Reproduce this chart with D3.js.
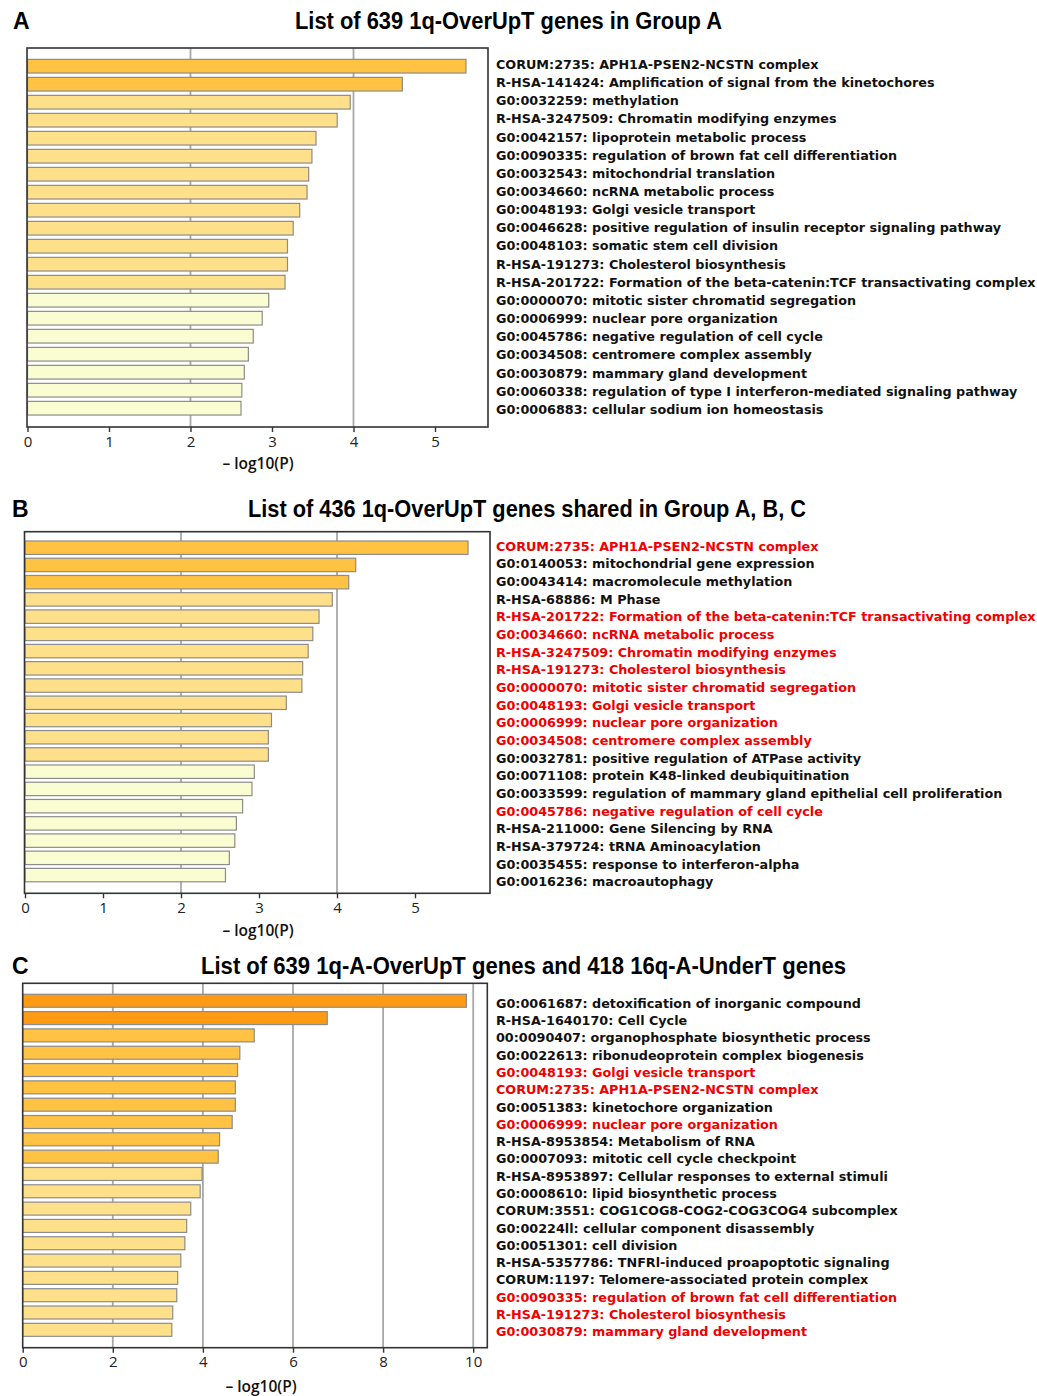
<!DOCTYPE html>
<html>
<head>
<meta charset="utf-8">
<script src="https://cdn.jsdelivr.net/npm/d3@7"></script>
<style>
  html, body { margin: 0; padding: 0; background: #fff; }
  svg { display: block; }
  .title { font-family: "Liberation Sans", Arial, sans-serif; font-weight: bold; }
  .term { font-family: "DejaVu Sans", Verdana, sans-serif; font-weight: bold; }
  .tick text { font-family: "Open Sans", "Liberation Sans", sans-serif; }
</style>
</head>
<body>
<svg id="chart" width="1037" height="1396"></svg>
<script>
// ---------------- DATA ----------------
const titles = [
  "List of 639 1q-OverUpT genes in Group A",
  "List of 436 1q-OverUpT genes shared in Group A, B, C",
  "List of 639 1q-A-OverUpT genes and 418 16q-A-UnderT genes"
];
const panelLetters = ["A", "B", "C"];
const axisTitle = "\u2013 log10(P)";

const termsA = [
  "CORUM:2735: APH1A-PSEN2-NCSTN complex",
  "R-HSA-141424: Amplification of signal from the kinetochores",
  "G0:0032259: methylation",
  "R-HSA-3247509: Chromatin modifying enzymes",
  "G0:0042157: lipoprotein metabolic process",
  "G0:0090335: regulation of brown fat cell differentiation",
  "G0:0032543: mitochondrial translation",
  "G0:0034660: ncRNA metabolic process",
  "G0:0048193: Golgi vesicle transport",
  "G0:0046628: positive regulation of insulin receptor signaling pathway",
  "G0:0048103: somatic stem cell division",
  "R-HSA-191273: Cholesterol biosynthesis",
  "R-HSA-201722: Formation of the beta-catenin:TCF transactivating complex",
  "G0:0000070: mitotic sister chromatid segregation",
  "G0:0006999: nuclear pore organization",
  "G0:0045786: negative regulation of cell cycle",
  "G0:0034508: centromere complex assembly",
  "G0:0030879: mammary gland development",
  "G0:0060338: regulation of type I interferon-mediated signaling pathway",
  "G0:0006883: cellular sodium ion homeostasis"
];
const valuesA = [5.38, 4.60, 3.96, 3.80, 3.54, 3.49, 3.45, 3.43, 3.34, 3.26,
                 3.19, 3.19, 3.16, 2.96, 2.88, 2.77, 2.71, 2.66, 2.63, 2.62];
const redA = [];

const termsB = [
  "CORUM:2735: APH1A-PSEN2-NCSTN complex",
  "G0:0140053: mitochondrial gene expression",
  "G0:0043414: macromolecule methylation",
  "R-HSA-68886: M Phase",
  "R-HSA-201722: Formation of the beta-catenin:TCF transactivating complex",
  "G0:0034660: ncRNA metabolic process",
  "R-HSA-3247509: Chromatin modifying enzymes",
  "R-HSA-191273: Cholesterol biosynthesis",
  "G0:0000070: mitotic sister chromatid segregation",
  "G0:0048193: Golgi vesicle transport",
  "G0:0006999: nuclear pore organization",
  "G0:0034508: centromere complex assembly",
  "G0:0032781: positive regulation of ATPase activity",
  "G0:0071108: protein K48-linked deubiquitination",
  "G0:0033599: regulation of mammary gland epithelial cell proliferation",
  "G0:0045786: negative regulation of cell cycle",
  "R-HSA-211000: Gene Silencing by RNA",
  "R-HSA-379724: tRNA Aminoacylation",
  "G0:0035455: response to interferon-alpha",
  "G0:0016236: macroautophagy"
];
const valuesB = [5.68, 4.24, 4.15, 3.94, 3.77, 3.69, 3.63, 3.56, 3.55, 3.35,
                 3.16, 3.12, 3.12, 2.94, 2.91, 2.79, 2.71, 2.69, 2.62, 2.57];
const redB = [0, 4, 5, 6, 7, 8, 9, 10, 11, 15];

const termsC = [
  "G0:0061687: detoxification of inorganic compound",
  "R-HSA-1640170: Cell Cycle",
  "00:0090407: organophosphate biosynthetic process",
  "G0:0022613: ribonudeoprotein complex biogenesis",
  "G0:0048193: Golgi vesicle transport",
  "CORUM:2735: APH1A-PSEN2-NCSTN complex",
  "G0:0051383: kinetochore organization",
  "G0:0006999: nuclear pore organization",
  "R-HSA-8953854: Metabolism of RNA",
  "G0:0007093: mitotic cell cycle checkpoint",
  "R-HSA-8953897: Cellular responses to external stimuli",
  "G0:0008610: lipid biosynthetic process",
  "CORUM:3551: COG1COG8-COG2-COG3COG4 subcomplex",
  "G0:00224ll: cellular component disassembly",
  "G0:0051301: cell division",
  "R-HSA-5357786: TNFRl-induced proapoptotic signaling",
  "CORUM:1197: Telomere-associated protein complex",
  "G0:0090335: regulation of brown fat cell differentiation",
  "R-HSA-191273: Cholesterol biosynthesis",
  "G0:0030879: mammary gland development"
];
const valuesC = [9.85, 6.76, 5.14, 4.82, 4.77, 4.72, 4.72, 4.65, 4.37, 4.34,
                 3.98, 3.94, 3.73, 3.64, 3.60, 3.51, 3.44, 3.42, 3.33, 3.31];
const redC = [4, 5, 7, 17, 18, 19];

const ticksA = [0, 1, 2, 3, 4, 5];
const ticksB = [0, 1, 2, 3, 4, 5];
const ticksC = [0, 2, 4, 6, 8, 10];
const gridA = [2, 4];
const gridB = [2, 4];
const gridC = [2, 4, 6, 8, 10];

// colour bins by -log10(P)
const colorThresholds = [3, 4, 6];
const colorBins = ["#fafcd2", "#ffe08a", "#ffc243", "#ff9a12"];

// ---------------- LAYOUT ----------------
const layouts = [
  { frame: [27, 48, 488, 427], x0: 27.5, unit: 81.5, bars: [57.2, 417.2], pad: 0.24,
    labels: [64.3, 409.3], tickY: 427, axisTitle: [258, 469], title: [508.5, 29, 427], letter: [13, 29] },
  { frame: [24.5, 531.7, 490, 893.3], x0: 25, unit: 78, bars: [539.1, 883.7], pad: 0.22,
    labels: [546, 881.7], tickY: 893.3, axisTitle: [258, 936], title: [527, 517, 558], letter: [12, 517] },
  { frame: [22.7, 983.3, 487.3, 1347.7], x0: 22.7, unit: 45.05, bars: [992.1, 1338.5], pad: 0.25,
    labels: [1003.3, 1331.7], tickY: 1347.7, axisTitle: [261, 1392], title: [523.5, 974, 645], letter: [12, 974] }
];

const panelData = [
  { terms: termsA, values: valuesA, red: redA, ticks: ticksA, grid: gridA },
  { terms: termsB, values: valuesB, red: redB, ticks: ticksB, grid: gridB },
  { terms: termsC, values: valuesC, red: redC, ticks: ticksC, grid: gridC }
];

const svg = d3.select("#chart");
const color = d3.scaleThreshold().domain(colorThresholds).range(colorBins);

panelData.forEach((pd, i) => {
  const L = layouts[i];
  const [fx0, fy0, fx1, fy1] = L.frame;
  const xMax = (fx1 - L.x0) / L.unit;
  const x = d3.scaleLinear().domain([0, xMax]).range([L.x0, fx1]);
  const idx = d3.range(pd.terms.length);
  const y = d3.scaleBand().domain(idx).range(L.bars).paddingInner(L.pad).paddingOuter(L.pad / 2);
  const yl = d3.scalePoint().domain(idx).range(L.labels);
  const g = svg.append("g");

  // grid lines
  g.selectAll("line.grid").data(pd.grid).join("line")
    .attr("class", "grid")
    .attr("x1", d => x(d)).attr("x2", d => x(d))
    .attr("y1", fy0).attr("y2", fy1)
    .attr("stroke", "#a8a8a8").attr("stroke-width", 1.8);

  // bars
  g.selectAll("rect.bar").data(idx).join("rect")
    .attr("class", "bar")
    .attr("x", x(0))
    .attr("y", d => y(d))
    .attr("width", d => x(pd.values[d]) - x(0))
    .attr("height", y.bandwidth())
    .attr("fill", d => color(pd.values[d]))
    .attr("stroke", "#8c8c8c").attr("stroke-width", 1.2);

  // frame
  g.append("rect")
    .attr("x", fx0).attr("y", fy0)
    .attr("width", fx1 - fx0).attr("height", fy1 - fy0)
    .attr("fill", "none").attr("stroke", "#333").attr("stroke-width", 1.6);

  // axis
  const ax = g.append("g").attr("transform", `translate(0,${L.tickY})`)
    .call(d3.axisBottom(x).tickValues(pd.ticks).tickFormat(d3.format("d")).tickSize(5).tickPadding(4));
  ax.select(".domain").remove();
  ax.selectAll(".tick line").attr("stroke", "#333").attr("stroke-width", 1.4);
  ax.selectAll(".tick text").attr("font-size", 15).attr("fill", "#222");

  g.append("text")
    .attr("x", L.axisTitle[0]).attr("y", L.axisTitle[1])
    .attr("text-anchor", "middle")
    .attr("font-family", "'Open Sans', 'Liberation Sans', sans-serif")
    .attr("font-size", 15.5).attr("font-weight", 600).attr("fill", "#111")
    .text(axisTitle);

  // term labels
  g.selectAll("text.term").data(idx).join("text")
    .attr("class", "term")
    .attr("x", 496)
    .attr("y", d => yl(d))
    .attr("dy", "0.36em")
    .attr("font-size", 12.75)
    .attr("fill", d => pd.red.includes(d) ? "#f00000" : "#111")
    .text(d => pd.terms[d]);

  // title + letter
  g.append("text").attr("class", "title")
    .attr("x", L.title[0]).attr("y", L.title[1])
    .attr("text-anchor", "middle").attr("font-size", 23).attr("fill", "#000")
    .attr("textLength", L.title[2]).attr("lengthAdjust", "spacingAndGlyphs")
    .text(titles[i]);
  g.append("text").attr("class", "title")
    .attr("x", L.letter[0]).attr("y", L.letter[1])
    .attr("font-size", 23).attr("fill", "#000")
    .text(panelLetters[i]);
});
</script>
</body>
</html>
